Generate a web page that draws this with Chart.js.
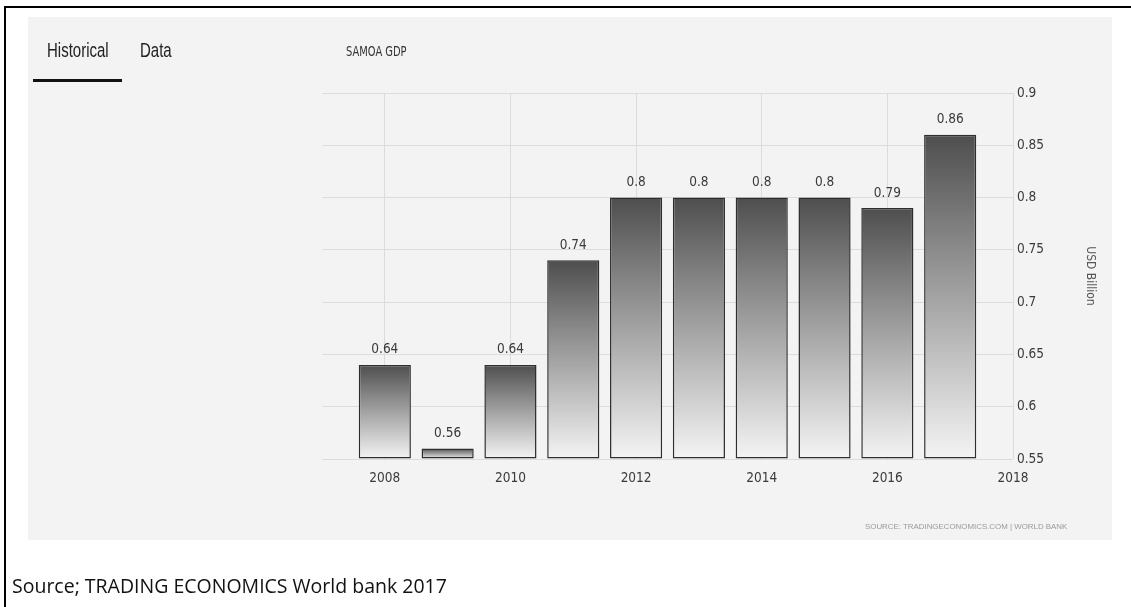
<!DOCTYPE html>
<html lang="en">
<head>
    <meta charset="UTF-8">
    <title>Samoa GDP</title>
    <script src="https://cdn.jsdelivr.net/npm/chart.js"></script>
    <style>
        body {
            margin: 0;
            width: 1131px;
            height: 607px;
            position: relative;
            overflow: hidden;
            background: #fff;
            font-family: "Liberation Sans", Arial, sans-serif;
        }
        .frame {
            position: absolute;
            left: 4px;
            top: 6px;
            width: 1200px;
            height: 700px;
            border-top: 2px solid #000;
            border-left: 2px solid #000;
        }
        .paper {
            position: absolute;
            left: 28px;
            top: 17px;
            width: 1084px;
            height: 523px;
            background: #f3f3f3;
        }
        #chartBox {
            position: absolute;
            left: 0;
            top: 0;
            width: 1131px;
            height: 607px;
        }
        .tab {
            position: absolute;
            top: 39px;
            font-size: 15px;
            line-height: 15px;
            color: #222;
            transform: scaleY(1.35);
            transform-origin: top left;
        }
        .tab-line {
            position: absolute;
            left: 33px;
            top: 79px;
            width: 89px;
            height: 3px;
            background: #111;
        }
        .title {
            position: absolute;
            left: 346px;
            top: 44px;
            font-family: "DejaVu Sans Condensed", "DejaVu Sans", sans-serif;
            font-size: 11px;
            line-height: 11px;
            color: #333;
            transform: scaleY(1.3);
            transform-origin: top left;
        }
        .small-source {
            position: absolute;
            left: 865px;
            top: 522px;
            font-size: 7.9px;
            color: #999;
        }
        .source {
            position: absolute;
            left: 12px;
            top: 575px;
            font-family: "Open Sans", sans-serif;
            font-size: 19.5px;
            line-height: 22px;
            color: #111;
        }
    </style>
</head>
<body>
<div class="frame"></div>
<div class="paper"></div>
<div id="chartBox"><canvas id="gdpChart"></canvas></div>
<div class="tab" style="left:47px">Historical</div>
<div class="tab" style="left:140px">Data</div>
<div class="tab-line"></div>
<div class="title">SAMOA GDP</div>
<div class="small-source">SOURCE: TRADINGECONOMICS.COM | WORLD BANK</div>
<div class="source">Source; TRADING ECONOMICS World bank 2017</div>
<script>
    // Daten (USD Milliarden)
    const years = [2008, 2009, 2010, 2011, 2012, 2013, 2014, 2015, 2016, 2017];
    const gdp = [0.64, 0.56, 0.64, 0.74, 0.8, 0.8, 0.8, 0.8, 0.79, 0.86];
    const yearTicks = [2008, 2010, 2012, 2014, 2016, 2018];
    const valueTicks = [0.55, 0.6, 0.65, 0.7, 0.75, 0.8, 0.85, 0.9];
    const yBase = 0.55;

    const condensed = '"DejaVu Sans Condensed", "DejaVu Sans", sans-serif';
    const tickFont = { family: condensed, size: 13.5 };

    // Werte über den Balken
    const valueLabels = {
        id: 'valueLabels',
        afterDatasetsDraw(chart) {
            const ctx = chart.ctx;
            const meta = chart.getDatasetMeta(0);
            ctx.save();
            ctx.font = '13.5px ' + condensed;
            ctx.fillStyle = '#3a3a3a';
            ctx.textAlign = 'center';
            ctx.textBaseline = 'middle';
            meta.data.forEach((bar, i) => {
                ctx.fillText(String(gdp[i]), bar.x, bar.y - 15);
            });
            ctx.restore();
        }
    };

    function barGradient(context) {
        const chart = context.chart;
        if (!chart.chartArea || context.type !== 'data') return '#999';
        const yScale = chart.scales.y;
        const top = yScale.getPixelForValue(context.raw.y);
        const bottom = yScale.getPixelForValue(yBase);
        const g = chart.ctx.createLinearGradient(0, top, 0, bottom + 0.01);
        g.addColorStop(0, '#4e4e4e');
        g.addColorStop(0.35, '#8a8a8a');
        g.addColorStop(1, '#f4f4f4');
        return g;
    }

    new Chart(document.getElementById('gdpChart'), {
        type: 'bar',
        data: {
            datasets: [{
                label: 'Samoa GDP',
                data: years.map((y, i) => ({ x: y, y: gdp[i] })),
                base: yBase,
                backgroundColor: barGradient,
                borderColor: '#2e2e2e',
                borderWidth: 1.5,
                borderSkipped: false,
                categoryPercentage: 0.83,
                barPercentage: 1,
                clip: false
            }]
        },
        options: {
            responsive: true,
            maintainAspectRatio: false,
            animation: false,
            layout: {
                padding: { left: 322, top: 93, right: 18, bottom: 118 }
            },
            plugins: {
                legend: { display: false },
                tooltip: { enabled: false }
            },
            scales: {
                x: {
                    type: 'linear',
                    min: 2007,
                    max: 2018,
                    offset: false,
                    afterBuildTicks: axis => { axis.ticks = yearTicks.map(v => ({ value: v })); },
                    afterFit: axis => { axis.height = 30; },
                    grid: { color: '#dcdcdc', drawTicks: false, offset: false },
                    border: { display: false },
                    ticks: {
                        font: tickFont,
                        color: '#3a3a3a',
                        padding: 11,
                        maxRotation: 0,
                        callback: v => String(v)
                    }
                },
                y: {
                    position: 'right',
                    min: 0.55,
                    max: 0.9,
                    afterBuildTicks: axis => { axis.ticks = valueTicks.map(v => ({ value: v })); },
                    afterFit: axis => { axis.width = 100; },
                    grid: { color: '#dcdcdc', drawTicks: false },
                    border: { display: false },
                    ticks: {
                        font: tickFont,
                        color: '#3a3a3a',
                        padding: 4,
                        callback: v => String(v)
                    },
                    title: {
                        display: true,
                        text: 'USD Billion',
                        color: '#555',
                        font: { family: condensed, size: 12 },
                        padding: { top: 16, bottom: 0 }
                    }
                }
            }
        },
        plugins: [valueLabels]
    });
</script>
</body>
</html>
